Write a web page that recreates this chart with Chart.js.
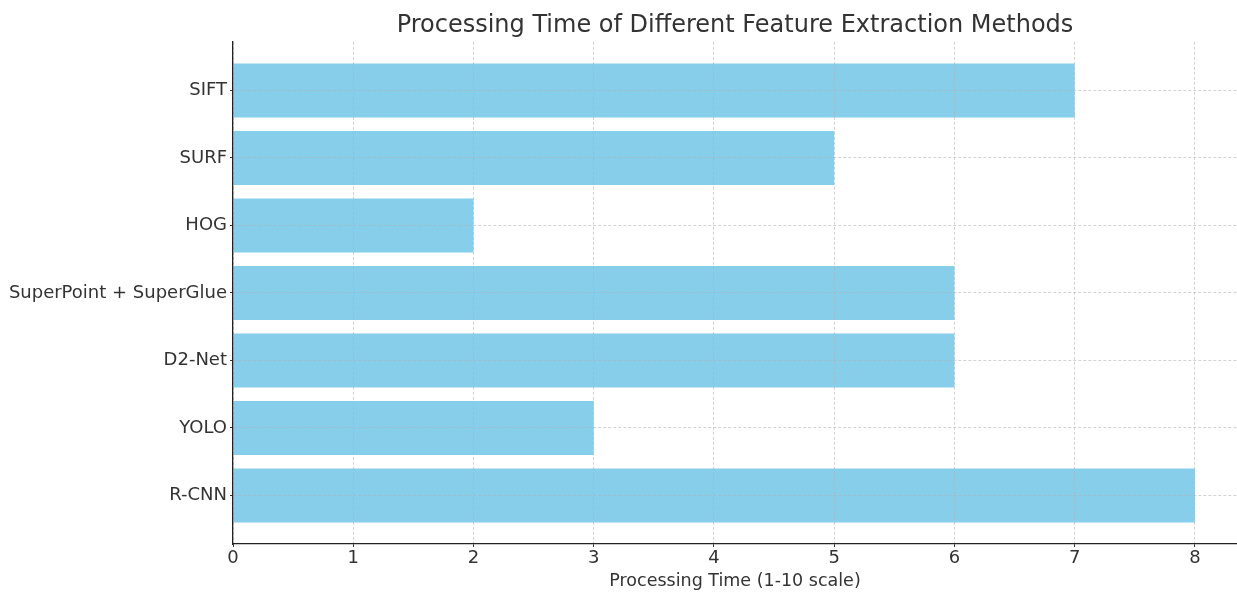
<!DOCTYPE html>
<html><head><meta charset="utf-8">
<script src="https://cdn.jsdelivr.net/npm/chart.js@4"></script>
<style>html,body{margin:0;padding:0;background:#fff}#wrap{width:1237px;height:592px}</style>
</head><body><div id="wrap"><canvas id="c" width="1237" height="592"></canvas></div>
<script>
const categories = ["SIFT", "SURF", "HOG", "SuperPoint + SuperGlue", "D2-Net", "YOLO", "R-CNN"];
const processingTime = [7, 5, 2, 6, 6, 3, 8];
const xTicks = [0, 1, 2, 3, 4, 5, 6, 7, 8];
const chartTitle = "Processing Time of Different Feature Extraction Methods";
const xTitle = "Processing Time (1-10 scale)";

const F = "'DejaVu Sans', sans-serif";
const data = processingTime.map((v, i) => ({ x: v, y: i }));
const gridOpts = { z: 1, color: 'rgba(175,175,175,0.55)', lineWidth: 1,
  drawTicks: true, tickLength: 3, tickColor: '#333', tickBorderDash: [], tickWidth: 1, offset: false };
const borderOpts = { display: true, color: '#222', width: 1.3, z: 2, dash: [3, 2] };

new Chart(document.getElementById('c'), {
  type: 'bar',
  data: { datasets: [{ data: data, backgroundColor: '#87CEEB', borderWidth: 0,
    barPercentage: 1, categoryPercentage: 0.8 }] },
  options: {
    indexAxis: 'y', responsive: false, animation: false,
    layout: { padding: 0 },
    plugins: {
      legend: { display: false }, tooltip: { enabled: false },
      title: { display: true, text: chartTitle, fullSize: false, color: '#333',
        font: { family: F, size: 24, weight: 'normal' }, padding: { top: 11, bottom: 2 } }
    },
    scales: {
      x: { type: 'linear', min: 0, max: 8.35, offset: false,
        afterBuildTicks: s => { s.ticks = xTicks.map(v => ({ value: v })); },
        afterFit: s => { s.height = 48; },
        border: borderOpts,
        grid: gridOpts,
        ticks: { z: 2, color: '#333', font: { family: F, size: 18 }, padding: 1, maxRotation: 0 },
        title: { display: true, text: xTitle, color: '#333', font: { family: F, size: 17.5 }, padding: { top: 0, bottom: 0 } }
      },
      y: { type: 'linear', reverse: true, min: -0.72, max: 6.72, offset: false,
        afterBuildTicks: s => { s.ticks = categories.map((c, i) => ({ value: i })); },
        afterFit: s => { s.width = 233; },
        border: borderOpts,
        grid: gridOpts,
        ticks: { z: 2, color: '#333', font: { family: F, size: 18 }, padding: 3,
          callback: v => categories[v] }
      }
    }
  }
});
</script></body></html>
